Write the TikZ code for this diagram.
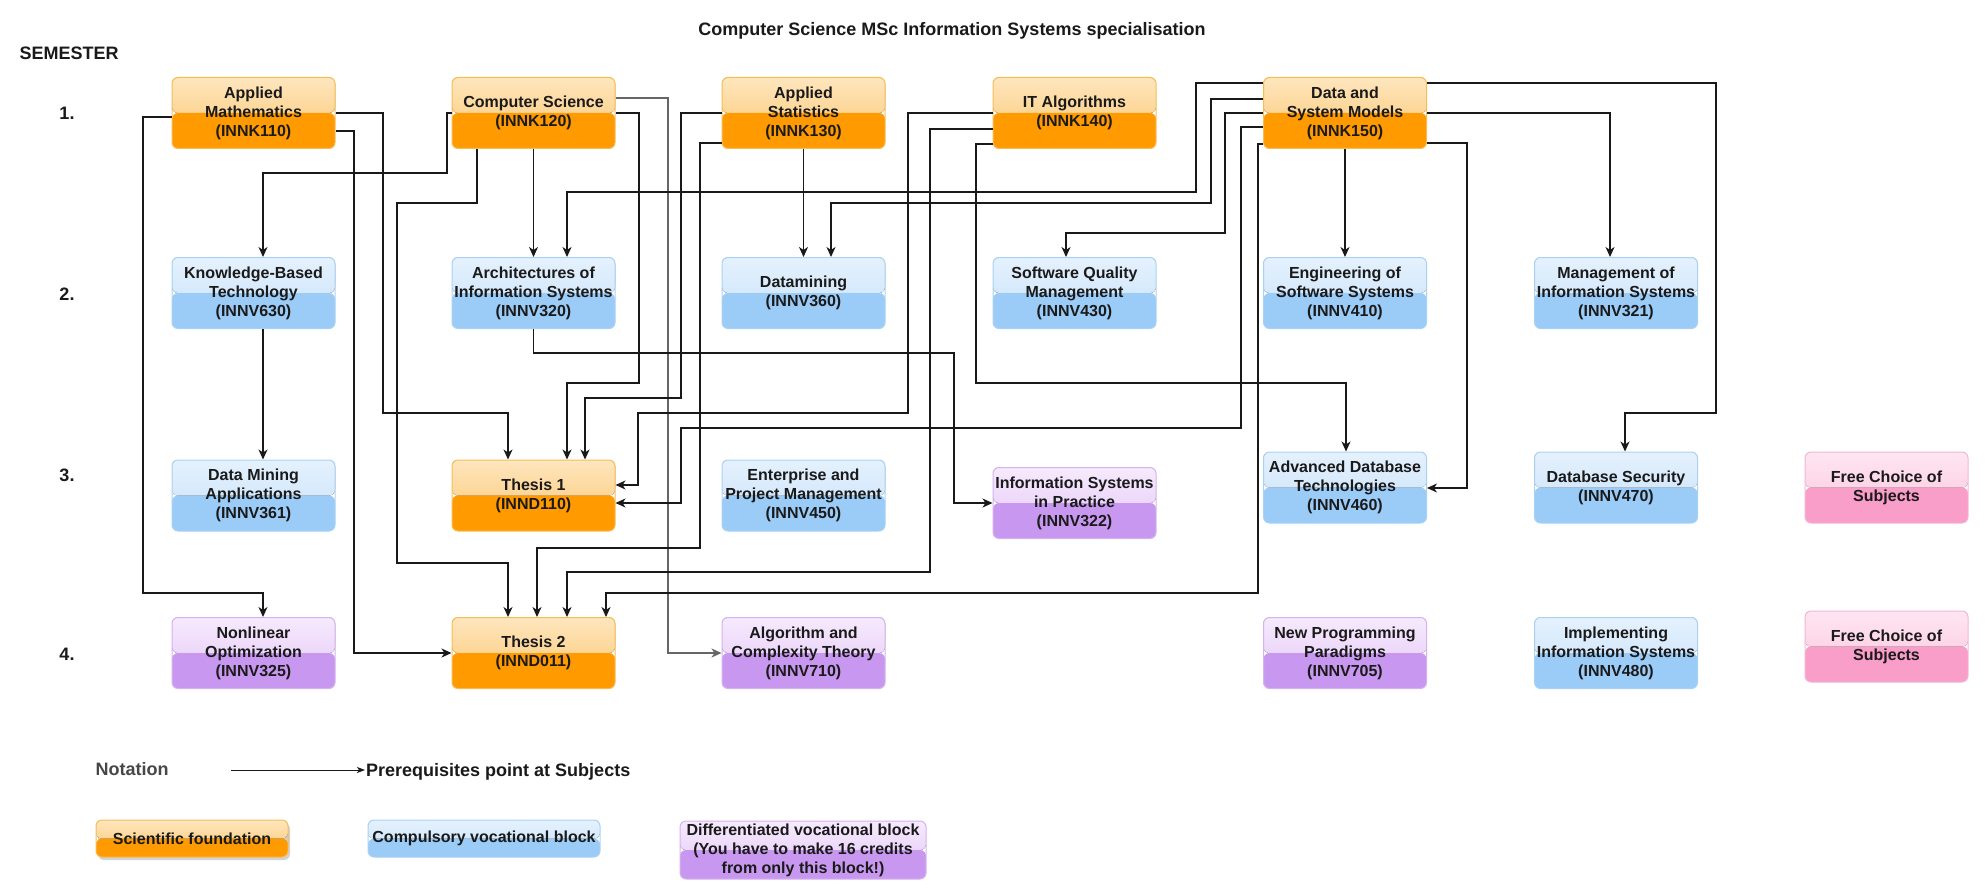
\documentclass[tikz,border=0pt]{standalone}
\usepackage{fontspec}
\setmainfont{Liberation Sans}
\usetikzlibrary{arrows.meta,shadows}
\definecolor{oTop}{HTML}{FEE6BE}
\definecolor{oMid}{HTML}{FCC56C}
\definecolor{oBot}{HTML}{FF9A00}
\definecolor{oBrd}{HTML}{F6BD55}
\definecolor{bTop}{HTML}{E5F1FD}
\definecolor{bMid}{HTML}{C5E1FA}
\definecolor{bBot}{HTML}{9BCBF7}
\definecolor{bBrd}{HTML}{A9D2F2}
\definecolor{pTop}{HTML}{F6EAFD}
\definecolor{pMid}{HTML}{E3C4F6}
\definecolor{pBot}{HTML}{C898F0}
\definecolor{pBrd}{HTML}{D6B2EF}
\definecolor{kTop}{HTML}{FFE6F1}
\definecolor{kMid}{HTML}{FBC3DC}
\definecolor{kBot}{HTML}{F99DC9}
\definecolor{kBrd}{HTML}{F3B7D3}
\definecolor{txt}{HTML}{1A1A1A}
\tikzset{
  glossy/.style n args={4}{draw=#1, path picture={
    \fill[top color=#2, bottom color=#3] (path picture bounding box.north west) rectangle (path picture bounding box.east);
    \fill[#4] (path picture bounding box.east) rectangle (path picture bounding box.south west);
  }},
  subj/.style={rounded corners=6pt, minimum width=163pt, minimum height=71pt, inner sep=1pt,
    align=center, line width=1pt, text=txt, font=\fontsize{16}{19}\selectfont\bfseries},
  orng/.style={subj, glossy={oBrd}{oTop}{oMid}{oBot}},
  blu/.style={subj, glossy={bBrd}{bTop}{bMid}{bBot}},
  purp/.style={subj, glossy={pBrd}{pTop}{pMid}{pBot}},
  pnk/.style={subj, glossy={kBrd}{kTop}{kMid}{kBot}},
  semlabel/.style={font=\fontsize{18}{21}\selectfont\bfseries, text=txt},
  arr/.style={line width=1.3pt, draw=black!90, -{Stealth[length=10pt,width=9pt,inset=3pt]}},
}
\begin{document}
\begin{tikzpicture}[x=1pt,y=-1pt]
\fill[white] (0,0) rectangle (1985,896);
\useasboundingbox (0,0) rectangle (1985,896);

% titles
\node[semlabel] (title) at (952,31) {Computer Science MSc Information Systems specialisation};
\node[semlabel, anchor=west] (sem) at (16,53) {SEMESTER};
\node[semlabel] (s1) at (67,113) {1.};
\node[semlabel] (s2) at (67,294) {2.};
\node[semlabel] (s3) at (67,475) {3.};
\node[semlabel] (s4) at (67,654) {4.};

% row 1
\node[orng] (am)  at (253.5,113) {Applied\\Mathematics\\(INNK110)};
\node[orng] (cs)  at (533.5,113) {Computer Science\\(INNK120)};
\node[orng] (st)  at (803.5,113) {Applied\\Statistics\\(INNK130)};
\node[orng] (ita) at (1074.5,113) {IT Algorithms\\(INNK140)};
\node[orng] (dsm) at (1345,113) {Data and\\System Models\\(INNK150)};
% row 2
\node[blu] (kbt)  at (253.5,293) {Knowledge-Based\\Technology\\(INNV630)};
\node[blu] (arch) at (533.5,293) {Architectures of\\Information Systems\\(INNV320)};
\node[blu] (dm)   at (803.5,293) {Datamining\\(INNV360)};
\node[blu] (sqm)  at (1074.5,293) {Software Quality\\Management\\(INNV430)};
\node[blu] (eng)  at (1345,293) {Engineering of\\Software Systems\\(INNV410)};
\node[blu] (mgmt) at (1616,293) {Management of\\Information Systems\\(INNV321)};
% row 3
\node[blu]  (dma) at (253.5,495.5) {Data Mining\\Applications\\(INNV361)};
\node[orng] (th1) at (533.5,495.5) {Thesis 1\\(INND110)};
\node[blu]  (epm) at (803.5,495.5) {Enterprise and\\Project Management\\(INNV450)};
\node[purp] (isp) at (1074.5,503) {Information Systems\\in Practice\\(INNV322)};
\node[blu]  (adb) at (1345,487.5) {Advanced Database\\Technologies\\(INNV460)};
\node[blu]  (dbs) at (1616,487.5) {Database Security\\(INNV470)};
\node[pnk]  (fc3) at (1886.5,487.5) {Free Choice of\\Subjects};
% row 4
\node[purp] (nlo) at (253.5,653) {Nonlinear\\Optimization\\(INNV325)};
\node[orng] (th2) at (533.5,653) {Thesis 2\\(INND011)};
\node[purp] (act) at (803.5,653) {Algorithm and\\Complexity Theory\\(INNV710)};
\node[purp] (npp) at (1345,653) {New Programming\\Paradigms\\(INNV705)};
\node[blu]  (iis) at (1616,653) {Implementing\\Information Systems\\(INNV480)};
\node[pnk]  (fc4) at (1886.5,646.5) {Free Choice of\\Subjects};

% connectors
\draw[arr] (am.west |- 0,117) -- (143,117) -- (143,593) -- (263,593) -- (263,0 |- nlo.north);
\draw[arr] (am.east |- 0,113) -- (383,113) -- (383,413) -- (508,413) -- (508,0 |- th1.north);
\draw[arr] (am.east |- 0,131) -- (354,131) -- (354,653) -- (th2.west |- 0,653);
\draw[arr] (cs.west |- 0,113) -- (447,113) -- (447,173) -- (263,173) -- (263,0 |- kbt.north);
\draw[arr] (477,0 |- cs.south) -- (477,203) -- (397,203) -- (397,563) -- (508,563) -- (508,0 |- th2.north);
\draw[arr] (cs.south) -- (arch.north);
\draw[arr, draw=black!60] (cs.east |- 0,98) -- (668,98) -- (668,653) -- (act.west |- 0,653);
\draw[arr] (cs.east |- 0,113) -- (639,113) -- (639,383) -- (567,383) -- (567,0 |- th1.north);
\draw[arr] (arch.south) -- (533.5,353) -- (954,353) -- (954,503) -- (isp.west |- 0,503);
\draw[arr] (st.west |- 0,113) -- (681,113) -- (681,398) -- (585,398) -- (585,0 |- th1.north);
\draw[arr] (st.west |- 0,143) -- (700,143) -- (700,548) -- (537,548) -- (537,0 |- th2.north);
\draw[arr] (st.south) -- (dm.north);
\draw[arr] (ita.west |- 0,113) -- (908,113) -- (908,413) -- (638,413) -- (638,485) -- (th1.east |- 0,485);
\draw[arr] (ita.west |- 0,129) -- (930,129) -- (930,572) -- (567,572) -- (567,0 |- th2.north);
\draw[arr] (ita.west |- 0,144) -- (976,144) -- (976,383) -- (1346,383) -- (1346,0 |- adb.north);
\draw[arr] (dsm.west |- 0,83) -- (1196,83) -- (1196,192) -- (567,192) -- (567,0 |- arch.north);
\draw[arr] (dsm.west |- 0,99) -- (1211,99) -- (1211,203) -- (831,203) -- (831,0 |- dm.north);
\draw[arr] (dsm.west |- 0,113) -- (1225,113) -- (1225,233) -- (1066,233) -- (1066,0 |- sqm.north);
\draw[arr] (dsm.west |- 0,127) -- (1241,127) -- (1241,428) -- (681,428) -- (681,503) -- (th1.east |- 0,503);
\draw[arr] (dsm.west |- 0,144) -- (1258,144) -- (1258,593) -- (606,593) -- (606,0 |- th2.north);
\draw[arr] (dsm.east |- 0,83) -- (1716,83) -- (1716,413) -- (1625,413) -- (1625,0 |- dbs.north);
\draw[arr] (dsm.east |- 0,113) -- (1610,113) -- (1610,0 |- mgmt.north);
\draw[arr] (dsm.east |- 0,143) -- (1467,143) -- (1467,488) -- (adb.east |- 0,488);
\draw[arr] (dsm.south) -- (eng.north);
\draw[arr] (263,0 |- kbt.south) -- (263,0 |- dma.north);

% legend
\node[semlabel, text=black!72, anchor=west] (nota) at (92,769) {Notation};
\coordinate (nstart) at (231,770);
\node[semlabel, anchor=west, inner sep=1pt] (prq) at (365,772) {Prerequisites point at Subjects};
\draw[arr, line width=1pt, -{Stealth[length=8pt,width=6pt,inset=2pt]}] (nstart) -- (prq.west |- nstart);
\node[orng, minimum width=192pt, minimum height=37pt, drop shadow={shadow xshift=2pt, shadow yshift=-3pt, opacity=0.35}] (lsci) at (192,838.5) {Scientific foundation};
\node[blu, minimum width=232pt, minimum height=37pt] (lcvb) at (484,838.5) {Compulsory vocational block};
\node[purp, minimum width=246pt, minimum height=58pt] (ldvb) at (803,850) {Differentiated vocational block\\(You have to make 16 credits\\from only this block!)};
\end{tikzpicture}
\end{document}
